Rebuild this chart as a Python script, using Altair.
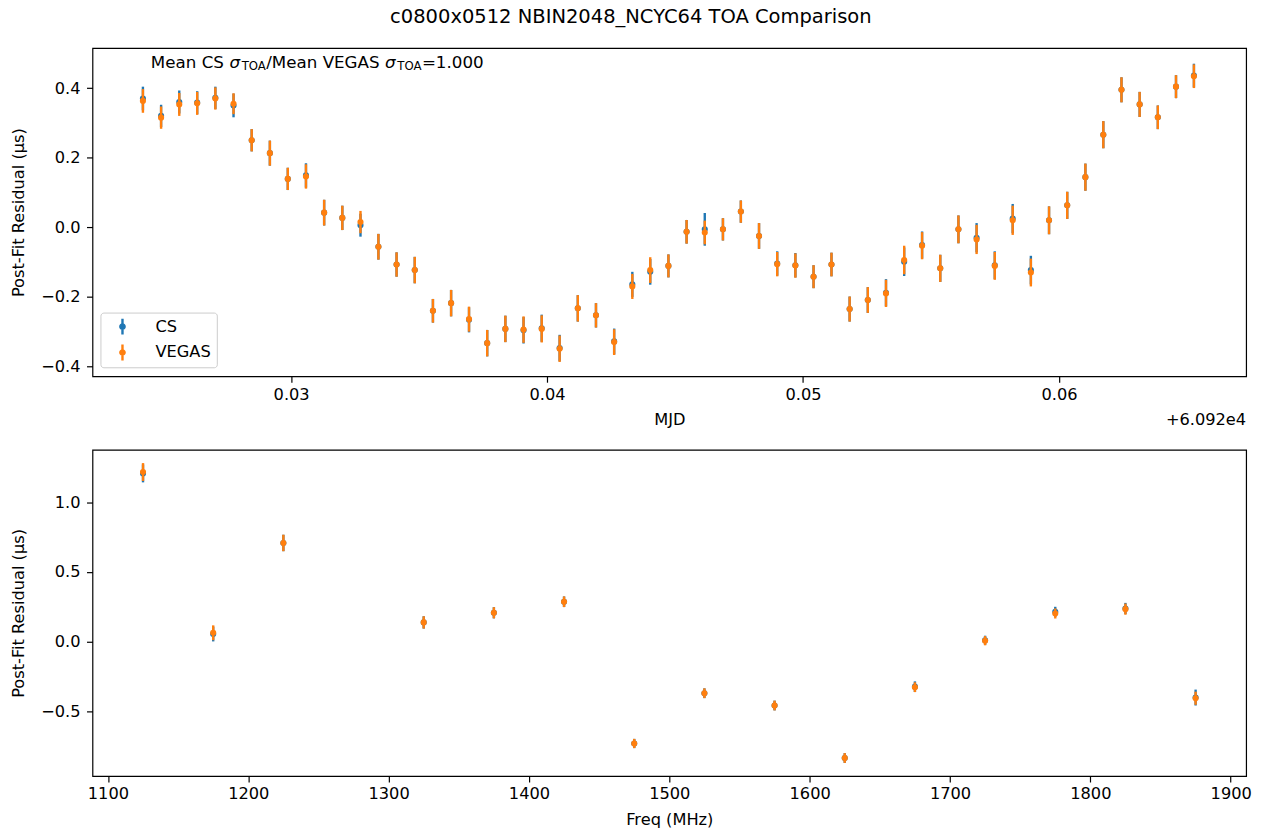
import altair as alt
import pandas as pd

FONT = "DejaVu Sans"
FS = 16.3
CS_COLOR = "#1f77b4"
VEGAS_COLOR = "#ff7f0e"

# ---- residuals vs. time (MJD - 60920) ----
mjd = [
    0.02421, 0.02492, 0.02563, 0.02633, 0.02704, 0.02775, 0.02846, 0.02917, 0.02987, 0.03058,
    0.03129, 0.03200, 0.03271, 0.03341, 0.03412, 0.03483, 0.03554, 0.03625, 0.03695, 0.03766,
    0.03837, 0.03908, 0.03979, 0.04049, 0.04120, 0.04191, 0.04262, 0.04333, 0.04403, 0.04474,
    0.04545, 0.04616, 0.04687, 0.04757, 0.04828, 0.04899, 0.04970, 0.05041, 0.05111, 0.05182,
    0.05253, 0.05324, 0.05395, 0.05465, 0.05536, 0.05607, 0.05678, 0.05749, 0.05819, 0.05890,
    0.05961, 0.06032, 0.06103, 0.06173, 0.06244, 0.06315, 0.06386, 0.06457, 0.06527,
]
cs_resid = [
    0.370, 0.320, 0.360, 0.358, 0.372, 0.350, 0.250, 0.213, 0.139, 0.149,
    0.042, 0.027, 0.006, -0.056, -0.107, -0.123, -0.240, -0.218, -0.266, -0.333,
    -0.292, -0.296, -0.290, -0.347, -0.233, -0.253, -0.328, -0.164, -0.128, -0.111,
    -0.013, -0.006, -0.006, 0.045, -0.025, -0.104, -0.109, -0.142, -0.107, -0.235,
    -0.209, -0.188, -0.099, -0.051, -0.118, -0.006, -0.030, -0.109, 0.025, -0.123,
    0.020, 0.063, 0.144, 0.266, 0.395, 0.353, 0.316, 0.404, 0.436,
]
cs_err = [
    0.034, 0.032, 0.033, 0.033, 0.032, 0.034, 0.032, 0.036, 0.032, 0.035,
    0.037, 0.035, 0.033, 0.037, 0.035, 0.038, 0.034, 0.038, 0.036, 0.038,
    0.038, 0.038, 0.039, 0.038, 0.038, 0.035, 0.037, 0.036, 0.037, 0.033,
    0.034, 0.047, 0.032, 0.032, 0.037, 0.035, 0.035, 0.033, 0.034, 0.036,
    0.037, 0.039, 0.041, 0.039, 0.039, 0.040, 0.042, 0.040, 0.042, 0.041,
    0.040, 0.039, 0.039, 0.039, 0.036, 0.036, 0.034, 0.033, 0.034,
]
vegas_resid = [
    0.363, 0.315, 0.353, 0.356, 0.370, 0.355, 0.250, 0.213, 0.139, 0.146,
    0.042, 0.027, 0.015, -0.056, -0.107, -0.123, -0.240, -0.218, -0.264, -0.333,
    -0.292, -0.294, -0.292, -0.349, -0.233, -0.253, -0.330, -0.170, -0.123, -0.111,
    -0.013, -0.015, -0.006, 0.045, -0.025, -0.106, -0.110, -0.142, -0.107, -0.235,
    -0.209, -0.190, -0.094, -0.053, -0.118, -0.006, -0.035, -0.111, 0.020, -0.130,
    0.020, 0.063, 0.144, 0.266, 0.395, 0.353, 0.316, 0.404, 0.434,
]
vegas_err = [
    0.034, 0.032, 0.033, 0.033, 0.032, 0.030, 0.032, 0.036, 0.032, 0.035,
    0.037, 0.035, 0.032, 0.037, 0.035, 0.038, 0.034, 0.038, 0.036, 0.038,
    0.038, 0.038, 0.039, 0.038, 0.038, 0.035, 0.037, 0.036, 0.037, 0.033,
    0.034, 0.034, 0.032, 0.032, 0.037, 0.035, 0.035, 0.033, 0.034, 0.036,
    0.037, 0.039, 0.041, 0.039, 0.039, 0.040, 0.042, 0.040, 0.042, 0.040,
    0.040, 0.039, 0.039, 0.039, 0.036, 0.036, 0.034, 0.033, 0.034,
]

# ---- residuals vs. observing frequency ----
freq_mhz = [1125, 1175, 1225, 1325, 1375, 1425, 1475, 1525, 1575, 1625, 1675, 1725, 1775, 1825, 1875]
cs_freq_resid = [1.205, 0.055, 0.707, 0.138, 0.207, 0.286, -0.729, -0.369, -0.457, -0.833,
                 -0.322, 0.010, 0.214, 0.238, -0.400]
cs_freq_err = [0.064, 0.053, 0.059, 0.044, 0.040, 0.038, 0.033, 0.035, 0.035, 0.035,
               0.038, 0.033, 0.036, 0.040, 0.057]
vegas_freq_resid = [1.215, 0.064, 0.707, 0.138, 0.207, 0.286, -0.729, -0.369, -0.457, -0.833,
                    -0.326, 0.007, 0.202, 0.233, -0.405]
vegas_freq_err = [0.064, 0.053, 0.059, 0.044, 0.040, 0.038, 0.033, 0.035, 0.035, 0.035,
                  0.035, 0.033, 0.036, 0.040, 0.047]

series_names = ["CS", "VEGAS"]
series_colors = [CS_COLOR, VEGAS_COLOR]


def long_frame(xname, xs, cs_y, cs_e, vg_y, vg_e):
    rows = []
    for name, ys, es in (("CS", cs_y, cs_e), ("VEGAS", vg_y, vg_e)):
        for xv, yv, ev in zip(xs, ys, es):
            rows.append({xname: xv, "series": name, "resid": yv, "err": ev})
    return pd.DataFrame(rows)


time_df = long_frame("mjd", mjd, cs_resid, cs_err, vegas_resid, vegas_err)
freq_df = long_frame("freq", freq_mhz, cs_freq_resid, cs_freq_err, vegas_freq_resid, vegas_freq_err)

# errorbar-style legend glyph: a vertical bar with a dot (both wound clockwise so they fill solid)
ERRBAR_GLYPH = ("M-0.15,-1L0.15,-1L0.15,1L-0.15,1Z "
                "M-0.42,0A0.42,0.42 0 1,1 0.42,0A0.42,0.42 0 1,1 -0.42,0Z")


def panel(df, xfield, xdomain, xticks, xfmt, xtitle, ydomain, yticks, legend):
    base = alt.Chart(df).transform_calculate(
        lo="datum.resid - datum.err", hi="datum.resid + datum.err"
    )
    xscale = alt.Scale(domain=xdomain, nice=False, zero=False)
    yscale = alt.Scale(domain=ydomain, nice=False, zero=False)
    xaxis = alt.Axis(values=xticks, format=xfmt, title=xtitle)
    yaxis = alt.Axis(values=yticks, format=".1f", title="Post-Fit Residual (μs)")
    x = alt.X(f"{xfield}:Q", scale=xscale, axis=xaxis)
    color = alt.Color("series:N",
                      scale=alt.Scale(domain=series_names, range=series_colors),
                      legend=legend)
    layers = []
    for name, col in zip(series_names, series_colors):
        sub = base.transform_filter(alt.datum.series == name)
        bars = sub.mark_rule(strokeWidth=2.4, color=col).encode(
            x=x,
            y=alt.Y("lo:Q", scale=yscale, axis=yaxis),
            y2="hi:Q",
        )
        dots = sub.mark_point(filled=True, size=38, opacity=1).encode(
            x=x,
            y=alt.Y("resid:Q", scale=yscale, axis=yaxis),
            color=color,
        )
        layers += [bars, dots]
    return layers


top_w, top_h = 1160, 330
bot_w, bot_h = 1160, 328

legend = alt.Legend(
    title=None, orient="none", legendX=8, legendY=266,
    fillColor="white", strokeColor="#cccccc", cornerRadius=3, padding=6,
    symbolType=ERRBAR_GLYPH, symbolSize=256, symbolStrokeWidth=0, symbolOpacity=1,
    symbolOffset=8, labelOffset=25, rowPadding=9,
    labelFont=FONT, labelFontSize=FS, labelColor="black",
)

top_layers = panel(time_df, "mjd", [0.02224, 0.06731], [0.03, 0.04, 0.05, 0.06], ".2f", "MJD",
                   [-0.428, 0.515], [-0.4, -0.2, 0.0, 0.2, 0.4], legend)

# ratio-of-uncertainties note, built from pieces so the subscripts sit lower and smaller
note_x0, note_base = 58.7, 20
note_parts = [
    ("Mean CS", 0.0, 0.0, 16.8, "normal"),
    ("σ", 79.0, 0.0, 16.8, "italic"),
    ("TOA", 91.3, 2.5, 11.8, "normal"),
    ("/Mean VEGAS", 116.0, 0.0, 16.8, "normal"),
    ("σ", 235.5, 0.0, 16.8, "italic"),
    ("TOA", 247.8, 2.5, 11.8, "normal"),
    ("=1.000", 272.5, 0.0, 16.8, "normal"),
]
for txt, off, dy, size, style in note_parts:
    top_layers.append(
        alt.Chart(pd.DataFrame({"t": [txt]})).mark_text(
            align="left", baseline="alphabetic", font=FONT, fontSize=size,
            fontStyle=style, color="black",
        ).encode(text="t:N", x=alt.value(note_x0 + off), y=alt.value(note_base + dy))
    )

# axis offset note for the MJD axis
top_layers.append(
    alt.Chart(pd.DataFrame({"t": ["+6.092e4"]})).mark_text(
        align="right", baseline="middle", font=FONT, fontSize=FS, color="black",
    ).encode(text="t:N", x=alt.value(top_w), y=alt.value(374))
)

top = alt.layer(*top_layers).properties(width=top_w, height=top_h)

bottom_layers = panel(freq_df, "freq", [1089, 1911], list(range(1100, 2000, 100)), "d", "Freq (MHz)",
                      [-0.962, 1.374], [-0.5, 0.0, 0.5, 1.0], None)
bottom = alt.layer(*bottom_layers).properties(width=bot_w, height=bot_h)

chart = (
    alt.vconcat(top, bottom, spacing=20)
    .resolve_scale(color="independent")
    .resolve_legend(color="independent")
    .properties(
        title=alt.TitleParams(
            "c0800x0512 NBIN2048_NCYC64 TOA Comparison",
            font=FONT, fontSize=19.6, fontWeight="normal", color="black",
            anchor="middle", frame="bounds", offset=20,
        ),
        padding={"left": 9, "top": 4, "right": 19, "bottom": 5},
        background="white",
    )
    .configure_view(stroke="black", strokeWidth=1.2)
    .configure_axis(
        grid=False, domain=False,
        tickColor="black", tickSize=6, tickWidth=1.2,
        labelFont=FONT, labelFontSize=FS, labelColor="black",
        titleFont=FONT, titleFontSize=FS, titleFontWeight="normal", titleColor="black",
    )
    .configure_axisX(labelPadding=4, titlePadding=9)
    .configure_axisY(labelPadding=6.5, titlePadding=14.5)
)

chart.save("out.html", embed_options={"renderer": "svg", "actions": False})
